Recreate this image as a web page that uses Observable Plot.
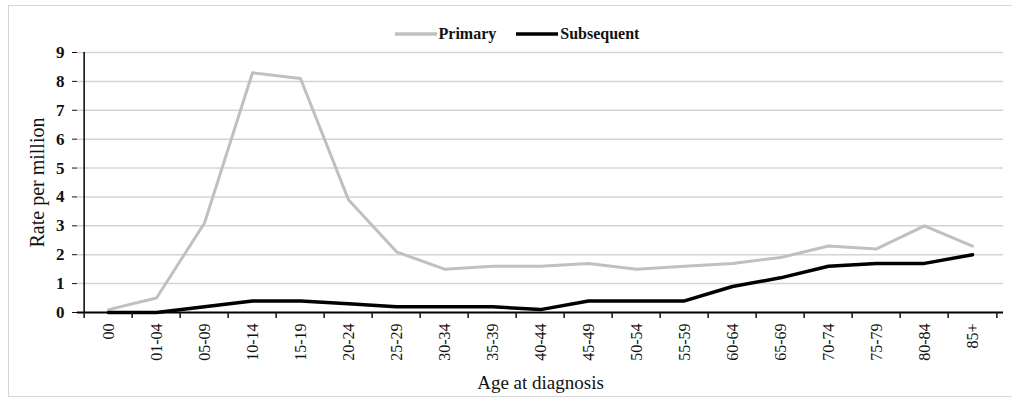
<!DOCTYPE html>
<html>
<head>
<meta charset="utf-8">
<script src="https://cdn.jsdelivr.net/npm/d3@7"></script>
<script src="https://cdn.jsdelivr.net/npm/@observablehq/plot@0.6"></script>
<style>
  body { margin: 0; background: #fff; }
  #wrap { position: relative; width: 1012px; height: 404px; overflow: hidden; font-family: "Liberation Serif", "Times New Roman", serif; }
  #box { position: absolute; left: 8px; top: 5px; width: 1020px; height: 392px; border: 1.5px solid #d6d6d6; box-sizing: border-box; }
  #legend { position: absolute; left: 0; width: 1012px; top: 25px; display: flex; justify-content: center; gap: 20px; font-size: 16px; font-weight: bold; color: #111; padding-left: 22px; box-sizing: border-box; }
  #legend span.item { display: inline-flex; align-items: center; }
  #legend svg { margin-right: 2px; }
  #chart { position: absolute; left: 0; top: 0; }
</style>
</head>
<body>
<div id="wrap">
  <div id="box"></div>
  <div id="chart"></div>
  <div id="legend"></div>
</div>
<script>
const ageGroups = ["00","01-04","05-09","10-14","15-19","20-24","25-29","30-34","35-39","40-44","45-49","50-54","55-59","60-64","65-69","70-74","75-79","80-84","85+"];
const primary    = [0.1, 0.5, 3.1, 8.3, 8.1, 3.9, 2.1, 1.5, 1.6, 1.6, 1.7, 1.5, 1.6, 1.7, 1.9, 2.3, 2.2, 3.0, 2.3];
const subsequent = [0.0, 0.0, 0.2, 0.4, 0.4, 0.3, 0.2, 0.2, 0.2, 0.1, 0.4, 0.4, 0.4, 0.9, 1.2, 1.6, 1.7, 1.7, 2.0];
const seriesNames = ["Primary", "Subsequent"];
const seriesColors = ["#c0c0c0", "#000000"];
const yTicks = [0,1,2,3,4,5,6,7,8,9];
const xTitle = "Age at diagnosis";
const yTitle = "Rate per million";

const data = [];
ageGroups.forEach((a, i) => {
  data.push({age: a, rate: primary[i], series: seriesNames[0]});
  data.push({age: a, rate: subsequent[i], series: seriesNames[1]});
});

const W = 1012, H = 404, ml = 77, mr = 9, mt = 52, mb = 92;
const bw = (W - ml - mr) / ageGroups.length;

const chart = Plot.plot({
  width: W, height: H,
  marginLeft: ml, marginRight: mr, marginTop: mt, marginBottom: mb,
  style: {fontFamily: "'Liberation Serif', 'Times New Roman', serif", fontSize: "14px", color: "#111", background: "transparent"},
  x: {type: "band", domain: ageGroups, padding: 0},
  y: {domain: [0, 9]},
  color: {domain: seriesNames, range: seriesColors},
  marks: [
    Plot.gridY(yTicks.filter(d => d > 0), {stroke: "#d4d4d4", strokeOpacity: 1, strokeWidth: 1.5}),
    Plot.line(data.filter(d => d.series === seriesNames[0]), {x: "age", y: "rate", stroke: seriesColors[0], strokeWidth: 3}),
    Plot.line(data.filter(d => d.series === seriesNames[1]), {x: "age", y: "rate", stroke: seriesColors[1], strokeWidth: 3.5}),
    Plot.ruleY([0], {stroke: "#000", strokeWidth: 2}),
    Plot.ruleX([ageGroups[0]], {y1: 0, y2: 9, dx: -bw / 2, stroke: "#000", strokeWidth: 1.5}),
    Plot.axisY({ticks: yTicks, tickSize: 5, tickPadding: 8, fontSize: 17, fontWeight: "bold", label: yTitle, labelArrow: "none", labelAnchor: "center", labelOffset: 48}),
    Plot.axisX({tickSize: 6, text: null, label: null, dx: -bw / 2, strokeWidth: 1.5}),
    Plot.axisX({ticks: [ageGroups[ageGroups.length - 1]], tickSize: 6, text: null, label: null, dx: bw / 2, strokeWidth: 1.5}),
    Plot.axisX({tickSize: 0, tickPadding: 11, tickRotate: -90, fontSize: 16, label: xTitle, labelArrow: "none", labelAnchor: "center", labelOffset: 76})
  ]
});
document.getElementById("chart").appendChild(chart);

// axis titles: strip any arrow, set size/weight
d3.select(chart).selectAll("text").each(function() {
  const t = d3.select(this);
  const txt = t.text().replace(/[↑→←↓]/g, "").trim();
  if (txt === xTitle || txt === yTitle) {
    const fs = txt === yTitle ? 20 : 19;
    t.text(txt).attr("font-size", fs).attr("font-weight", "normal").style("font-size", fs + "px").style("font-weight", "normal");
  }
});

const legend = d3.select("#legend");
seriesNames.forEach((name, i) => {
  const item = legend.append("span").attr("class", "item");
  const s = item.append("svg").attr("width", 42).attr("height", 8);
  s.append("line").attr("x1", 0).attr("x2", 42).attr("y1", 4).attr("y2", 4).attr("stroke", seriesColors[i]).attr("stroke-width", 3.5);
  item.append("span").text(name);
});
</script>
</body>
</html>
